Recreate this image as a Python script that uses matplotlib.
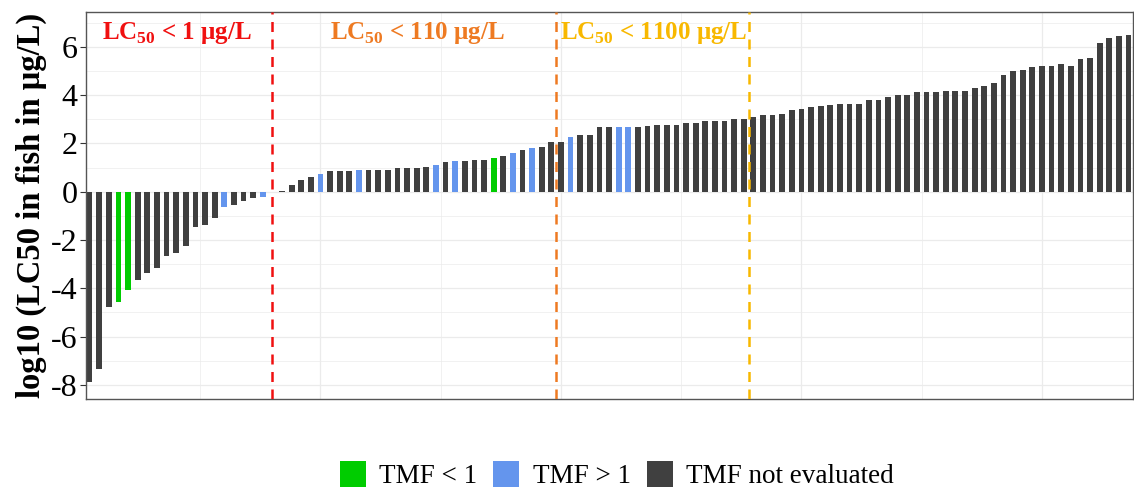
import matplotlib
matplotlib.use("Agg")
import matplotlib.pyplot as plt
from matplotlib.patches import Patch
import numpy as np

# log10(LC50 in fish, ug/L), sorted, one bar per chemical
lc50_log = [
    -7.86, -7.34, -4.76, -4.55, -4.07, -3.65, -3.38, -3.16, -2.65, -2.54,
    -2.26, -1.48, -1.37, -1.09, -0.65, -0.54, -0.37, -0.26, -0.22, 0.0,
    0.04, 0.28, 0.50, 0.62, 0.73, 0.84, 0.84, 0.84, 0.90, 0.90,
    0.90, 0.90, 0.97, 0.97, 0.97, 1.01, 1.12, 1.23, 1.27, 1.27,
    1.32, 1.32, 1.39, 1.46, 1.61, 1.72, 1.79, 1.85, 2.05, 2.05,
    2.27, 2.34, 2.34, 2.66, 2.66, 2.66, 2.66, 2.66, 2.72, 2.76,
    2.76, 2.76, 2.83, 2.83, 2.94, 2.94, 2.94, 2.99, 2.99, 3.10,
    3.16, 3.16, 3.21, 3.38, 3.43, 3.49, 3.54, 3.60, 3.65, 3.65,
    3.65, 3.79, 3.79, 3.94, 4.00, 4.00, 4.11, 4.11, 4.11, 4.17,
    4.17, 4.17, 4.28, 4.39, 4.50, 4.83, 4.99, 5.05, 5.16, 5.21,
    5.21, 5.27, 5.21, 5.49, 5.54, 6.15, 6.37, 6.43, 6.48,
]

# TMF status per bar (1-based positions); all others: not evaluated
tmf_lt1 = [4, 5, 43]
tmf_gt1 = [15, 19, 25, 29, 37, 39, 45, 47, 51, 56, 57]

# thresholds (bar position of the dashed lines) and their labels
cut_pos = [20, 49.5, 69.5]
cut_labels = [r"LC$_{\mathbf{50}}$ < 1 μg/L",
              r"LC$_{\mathbf{50}}$ < 110 μg/L",
              r"LC$_{\mathbf{50}}$ < 1100 μg/L"]
cut_colors = ["#F01010", "#EE7A22", "#F8B800"]
label_x = [2.3, 26.0, 49.9]

legend_labels = ["TMF < 1", "TMF > 1", "TMF not evaluated"]
legend_colors = ["#00CC00", "#6495ED", "#404040"]

plt.rcParams["font.family"] = ["Liberation Serif", "DejaVu Serif"]
plt.rcParams["mathtext.fontset"] = "custom"
plt.rcParams["mathtext.rm"] = "Liberation Serif"
plt.rcParams["mathtext.bf"] = "Liberation Serif:bold"
plt.rcParams["axes.unicode_minus"] = False

x = np.arange(1, len(lc50_log) + 1)
colors = []
for i in x:
    if i in tmf_lt1:
        colors.append(legend_colors[0])
    elif i in tmf_gt1:
        colors.append(legend_colors[1])
    else:
        colors.append(legend_colors[2])

fig = plt.figure(figsize=(11.34, 4.88), dpi=100)
ax = fig.add_axes([0.0758, 0.1824, 0.9232, 0.7936])

# grid like theme_bw
for yv in range(-9, 8):
    lw = 0.9 if yv % 2 == 0 else 0.5
    ax.axhline(yv, color="#EBEBEB", lw=lw, zorder=0)
for xv in [12.5, 25, 37.5, 50, 62.5, 75, 87.5, 100]:
    lw = 0.9 if xv % 25 == 0 else 0.5
    ax.axvline(xv, color="#EBEBEB", lw=lw, zorder=0)

ax.bar(x, lc50_log, width=0.6, color=colors, zorder=2)

for pos, lab, col, lx in zip(cut_pos, cut_labels, cut_colors, label_x):
    ax.axvline(pos, color=col, lw=1.8, ls=(0, (4, 3)), zorder=3)
    ax.text(lx, 6.55, lab, color=col, fontsize=18, fontweight="bold",
            ha="left", va="center", zorder=4)

ax.set_xlim(0.62, 109.45)
ax.set_ylim(-8.58, 7.45)
ax.set_yticks(range(-8, 7, 2))
ax.set_xticks([])
ax.tick_params(axis="y", labelsize=23, length=4, width=0.8, color="#333333",
               labelcolor="black", pad=2)
for s in ax.spines.values():
    s.set_color("#555555")
    s.set_linewidth(1.0)

ax.set_ylabel("log10 (LC50 in fish in μg/L)", fontsize=23.5, fontweight="bold",
              labelpad=3)

handles = [Patch(facecolor=c, edgecolor="none") for c in legend_colors]
fig.legend(handles, legend_labels, loc="center", bbox_to_anchor=(0.544, 0.027),
           ncol=3, frameon=False, fontsize=19.5, handlelength=0.95,
           handleheight=1.1, handletextpad=0.5, columnspacing=0.6)

fig.savefig("out.png", dpi=100)
